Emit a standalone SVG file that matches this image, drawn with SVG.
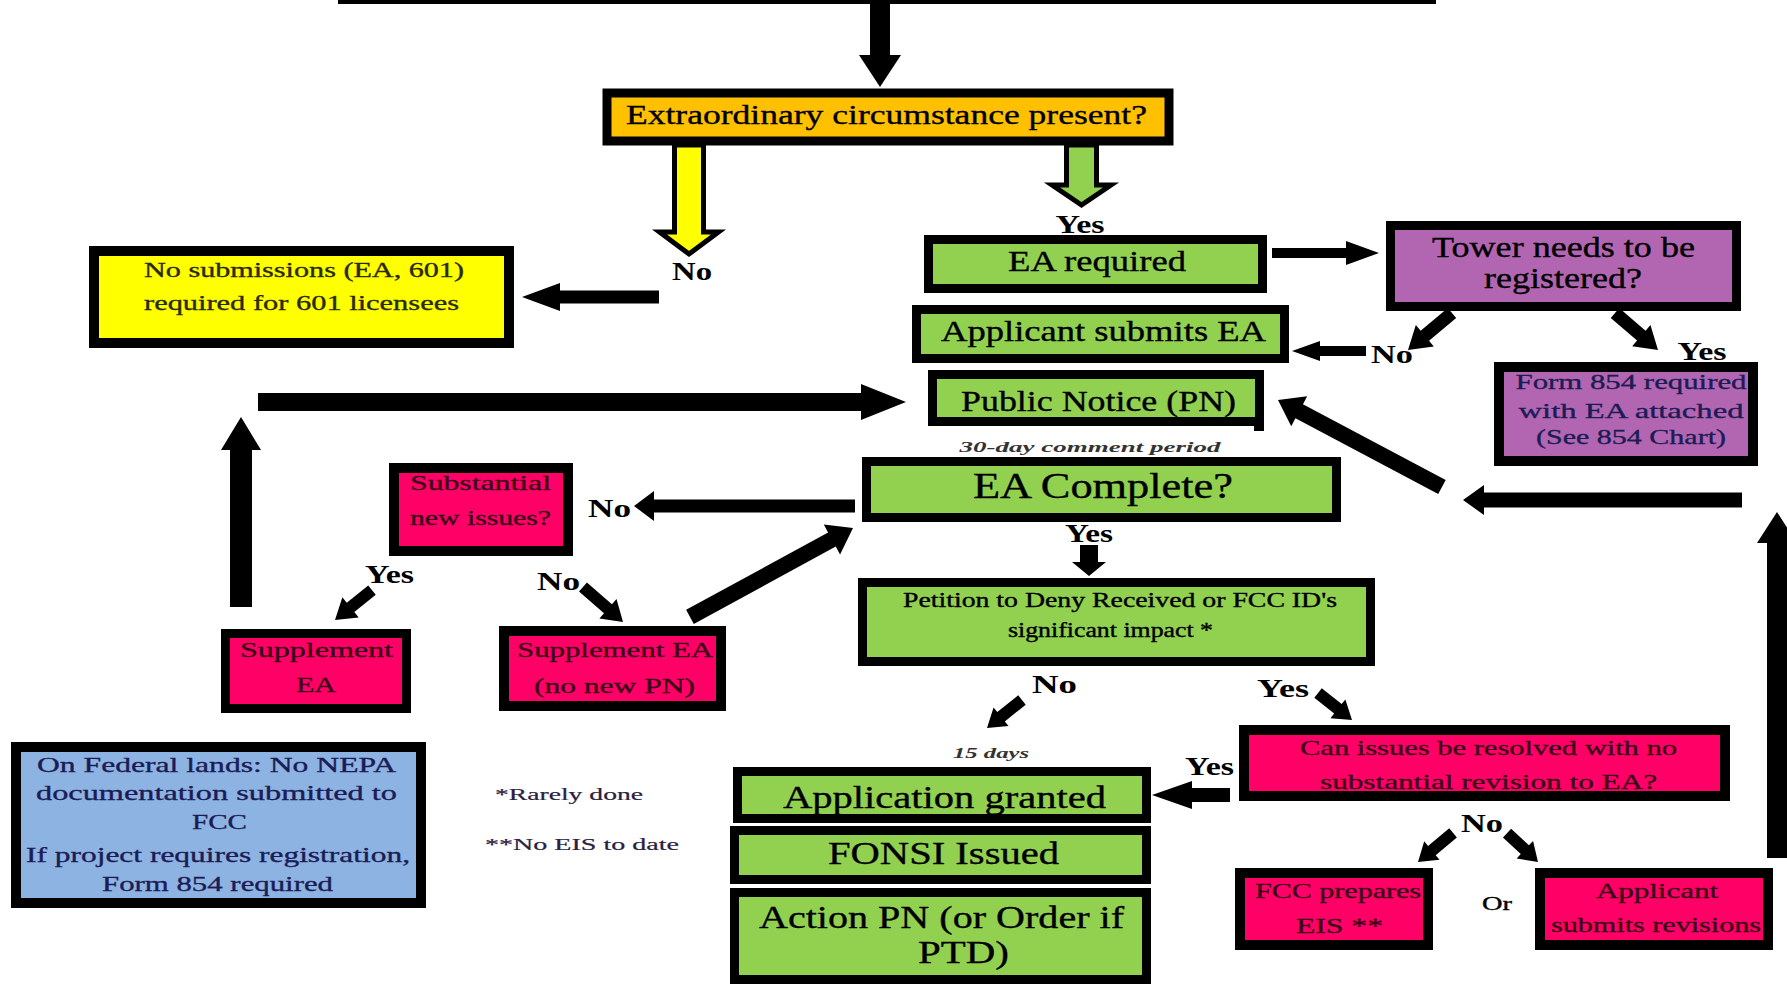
<svg xmlns="http://www.w3.org/2000/svg" width="1787" height="987" viewBox="0 0 1787 987">
<style>
text{font-family:"Liberation Serif","Times New Roman",serif;fill:#000;stroke:#000;stroke-width:0.35;text-anchor:middle}
.box{stroke:#000;stroke-width:9}
.s10{stroke-width:10}
.or{fill:#FFC000}.ye{fill:#FFFF00}.gr{fill:#92D050}.pu{fill:#B266B2}.pk{fill:#FF0066}.bl{fill:#8DB3E2}
.t27{font-size:29px}.t21{font-size:22px}.t30{font-size:32px}.t19{font-size:20px}
.lab{font-size:25px;font-weight:bold;stroke-width:0}
.it{font-size:15px;font-style:italic;font-weight:bold;fill:#333;stroke-width:0}
.note{font-size:17px;fill:#2a2040;stroke:#2a2040;stroke-width:0.2}
.pkt{fill:#3a0018;stroke:#3a0018}.ylt{fill:#2a2a00;stroke:#2a2a00}.nvt{fill:#1c1c55;stroke:#1c1c55}
.ar{fill:#000}
.hol{stroke:#000;stroke-width:5;stroke-linejoin:miter}
</style>
<rect x="0" y="0" width="1787" height="987" fill="#fff"/>

<g id="connectors">
  <rect x="338" y="0" width="1098" height="4" fill="#000"/>
  <path class="ar" transform="translate(880,87) rotate(90)" d="M0,0 L-32,-21 L-32,-10 L-83,-10 L-83,10 L-32,10 L-32,21 Z"/>
  <path class="hol ye" d="M674.5,145 L703.5,145 L703.5,232 L718.5,232 L689,254 L659.5,232 L674.5,232 Z"/>
  <path class="hol gr" d="M1066.5,145 L1096.5,145 L1096.5,185 L1111,185 L1081.5,205 L1052,185 L1066.5,185 Z"/>
  <path class="ar" transform="translate(522,297) rotate(180)" d="M0,0 L-38,-14 L-38,-6.5 L-137,-6.5 L-137,6.5 L-38,6.5 L-38,14 Z"/>
  <path class="ar" transform="translate(1379,253)" d="M0,0 L-33,-12 L-33,-5 L-107,-5 L-107,5 L-33,5 L-33,12 Z"/>
  <path class="ar" transform="translate(1408,350) rotate(139.9)" d="M0,0 L-22,-14 L-22,-6.5 L-57.5,-6.5 L-57.5,6.5 L-22,6.5 L-22,14 Z"/>
  <path class="ar" transform="translate(1658,350) rotate(40.7)" d="M0,0 L-22,-14 L-22,-6.5 L-56.7,-6.5 L-56.7,6.5 L-22,6.5 L-22,14 Z"/>
  <path class="ar" transform="translate(1292,351) rotate(180)" d="M0,0 L-28,-10 L-28,-5 L-74,-5 L-74,5 L-28,5 L-28,10 Z"/>
  <path class="ar" transform="translate(906,402)" d="M0,0 L-45,-18 L-45,-9 L-648,-9 L-648,9 L-45,9 L-45,18 Z"/>
  <path class="ar" transform="translate(241,417) rotate(-90)" d="M0,0 L-33,-20 L-33,-11 L-190,-11 L-190,11 L-33,11 L-33,20 Z"/>
  <path class="ar" transform="translate(634,506) rotate(180)" d="M0,0 L-20,-15 L-20,-6.5 L-221,-6.5 L-221,6.5 L-20,6.5 L-20,15 Z"/>
  <path class="ar" transform="translate(335,620) rotate(141)" d="M0,0 L-20,-13 L-20,-6 L-47.6,-6 L-47.6,6 L-20,6 L-20,13 Z"/>
  <path class="ar" transform="translate(623,622) rotate(41.2)" d="M0,0 L-20,-13 L-20,-6 L-53.2,-6 L-53.2,6 L-20,6 L-20,13 Z"/>
  <path class="ar" transform="translate(853,528) rotate(-28.6)" d="M0,0 L-24,-17 L-24,-8 L-185.7,-8 L-185.7,8 L-24,8 L-24,17 Z"/>
  <path class="ar" transform="translate(1278,400) rotate(-152.05)" d="M0,0 L-24,-17 L-24,-8 L-185.6,-8 L-185.6,8 L-24,8 L-24,17 Z"/>
  <path class="ar" transform="translate(1463,500) rotate(180)" d="M0,0 L-21,-15 L-21,-7.5 L-279,-7.5 L-279,7.5 L-21,7.5 L-21,15 Z"/>
  <path class="ar" transform="translate(1777,512) rotate(-90)" d="M0,0 L-31,-20 L-31,-10 L-346,-10 L-346,10 L-31,10 L-31,20 Z"/>
  <path class="ar" transform="translate(1089,576) rotate(90)" d="M0,0 L-14,-17 L-14,-9 L-31,-9 L-31,9 L-14,9 L-14,17 Z"/>
  <path class="ar" transform="translate(987,728) rotate(141.3)" d="M0,0 L-18,-12 L-18,-6 L-44.8,-6 L-44.8,6 L-18,6 L-18,12 Z"/>
  <path class="ar" transform="translate(1352,720) rotate(38.5)" d="M0,0 L-18,-12 L-18,-6 L-43.4,-6 L-43.4,6 L-18,6 L-18,12 Z"/>
  <path class="ar" transform="translate(1152,795) rotate(180)" d="M0,0 L-40,-14 L-40,-7 L-78,-7 L-78,7 L-40,7 L-40,14 Z"/>
  <path class="ar" transform="translate(1418,862) rotate(140.4)" d="M0,0 L-18,-12 L-18,-6 L-45.5,-6 L-45.5,6 L-18,6 L-18,12 Z"/>
  <path class="ar" transform="translate(1538,862) rotate(43.1)" d="M0,0 L-18,-12 L-18,-6 L-42.4,-6 L-42.4,6 L-18,6 L-18,12 Z"/>
</g>

<g id="labels">
  <text class="lab" x="692" y="280" textLength="40" lengthAdjust="spacingAndGlyphs">No</text>
  <text class="lab" x="1080" y="233" textLength="49" lengthAdjust="spacingAndGlyphs">Yes</text>
  <text class="lab" x="1392" y="363" textLength="42" lengthAdjust="spacingAndGlyphs">No</text>
  <text class="lab" x="1702" y="360" textLength="49" lengthAdjust="spacingAndGlyphs">Yes</text>
  <text class="lab" x="609.5" y="517" textLength="43" lengthAdjust="spacingAndGlyphs">No</text>
  <text class="lab" x="389.5" y="583" textLength="49" lengthAdjust="spacingAndGlyphs">Yes</text>
  <text class="lab" x="558.5" y="590" textLength="43" lengthAdjust="spacingAndGlyphs">No</text>
  <text class="lab" x="1089" y="542" textLength="48" lengthAdjust="spacingAndGlyphs">Yes</text>
  <text class="lab" x="1054.5" y="693" textLength="45" lengthAdjust="spacingAndGlyphs">No</text>
  <text class="lab" x="1283" y="697" textLength="52" lengthAdjust="spacingAndGlyphs">Yes</text>
  <text class="lab" x="1209.5" y="775" textLength="49" lengthAdjust="spacingAndGlyphs">Yes</text>
  <text class="lab" x="1482" y="832" textLength="42" lengthAdjust="spacingAndGlyphs">No</text>
  <text x="1497" y="910" font-size="19" textLength="30" lengthAdjust="spacingAndGlyphs" fill="#222" stroke-width="0">Or</text>
  <text class="it" x="1090" y="452" textLength="261" lengthAdjust="spacingAndGlyphs">30-day comment period</text>
  <text class="it" x="991" y="758" textLength="76" lengthAdjust="spacingAndGlyphs">15 days</text>
  <text class="note" x="569" y="800" textLength="148" lengthAdjust="spacingAndGlyphs">*Rarely done</text>
  <text class="note" x="582" y="850" textLength="194" lengthAdjust="spacingAndGlyphs">**No EIS to date</text>
</g>

<g id="n-extraordinary">
  <rect class="box or" x="607" y="93" width="562" height="48"/>
  <text x="886.5" y="124" font-size="28" textLength="521" lengthAdjust="spacingAndGlyphs">Extraordinary circumstance present?</text>
</g>
<g id="n-nosubmissions">
  <rect class="box s10 ye" x="94" y="251" width="415" height="92"/>
  <text class="t21 ylt" x="304" y="277" textLength="320" lengthAdjust="spacingAndGlyphs">No submissions (EA, 601)</text>
  <text class="t21 ylt" x="301.5" y="310" textLength="315" lengthAdjust="spacingAndGlyphs">required for 601 licensees</text>
</g>
<g id="n-earequired">
  <rect class="box gr" x="928.5" y="239.5" width="334" height="49"/>
  <text class="t27" x="1097" y="271" textLength="178" lengthAdjust="spacingAndGlyphs">EA required</text>
</g>
<g id="n-tower">
  <rect class="box pu" x="1390.5" y="225.5" width="346" height="81"/>
  <text class="t27" x="1563.5" y="257" textLength="263" lengthAdjust="spacingAndGlyphs">Tower needs to be</text>
  <text class="t27" x="1563" y="288" textLength="158" lengthAdjust="spacingAndGlyphs">registered?</text>
</g>
<g id="n-applicantsubmits">
  <rect class="box gr" x="916.5" y="309.5" width="368" height="49"/>
  <text class="t27" x="1103.5" y="341" textLength="325" lengthAdjust="spacingAndGlyphs">Applicant submits EA</text>
</g>
<g id="n-publicnotice">
  <rect class="box gr" x="932.5" y="374.5" width="327" height="47"/>
  <rect x="1254" y="421" width="10" height="10" fill="#000"/>
  <text class="t27" x="1098.5" y="411" textLength="275" lengthAdjust="spacingAndGlyphs">Public Notice (PN)</text>
</g>
<g id="n-form854">
  <rect class="box s10 pu" x="1499" y="367" width="254" height="94"/>
  <text class="t21 nvt" x="1631" y="389" textLength="231" lengthAdjust="spacingAndGlyphs">Form 854 required</text>
  <text class="t21 nvt" x="1631" y="418" textLength="225" lengthAdjust="spacingAndGlyphs">with EA attached</text>
  <text class="t21 nvt" x="1631" y="444" textLength="190" lengthAdjust="spacingAndGlyphs">(See 854 Chart)</text>
</g>
<g id="n-eacomplete">
  <rect class="box gr" x="866.5" y="461.5" width="470" height="56"/>
  <text x="1103" y="498" font-size="35" textLength="260" lengthAdjust="spacingAndGlyphs">EA Complete?</text>
</g>
<g id="n-substantial">
  <rect class="box s10 pk" x="394" y="468" width="174" height="83"/>
  <text class="t21 pkt" x="480.5" y="490" textLength="141" lengthAdjust="spacingAndGlyphs">Substantial</text>
  <text class="t21 pkt" x="480.5" y="525" textLength="141" lengthAdjust="spacingAndGlyphs">new issues?</text>
</g>
<g id="n-supplement">
  <rect class="box pk" x="225.5" y="633.5" width="181" height="75"/>
  <text class="t21 pkt" x="316.5" y="657" textLength="153" lengthAdjust="spacingAndGlyphs">Supplement</text>
  <text class="t21 pkt" x="316" y="692" textLength="40" lengthAdjust="spacingAndGlyphs">EA</text>
</g>
<g id="n-supplementnopn">
  <rect class="box s10 pk" x="504" y="631" width="217" height="75"/>
  <text class="t21 pkt" x="615" y="657" textLength="196" lengthAdjust="spacingAndGlyphs">Supplement EA</text>
  <text class="t21 pkt" x="614.5" y="693" textLength="161" lengthAdjust="spacingAndGlyphs">(no new PN)</text>
</g>
<g id="n-petition">
  <rect class="box gr" x="862.5" y="582.5" width="508" height="79"/>
  <text class="t19" x="1120" y="607" textLength="434" lengthAdjust="spacingAndGlyphs">Petition to Deny Received or FCC ID's</text>
  <text class="t19" x="1110.5" y="637" textLength="205" lengthAdjust="spacingAndGlyphs">significant impact *</text>
</g>
<g id="n-federal">
  <rect class="box s10 bl" x="16" y="747" width="405" height="156"/>
  <text class="t21 nvt" x="216.5" y="772" textLength="359" lengthAdjust="spacingAndGlyphs">On Federal lands: No NEPA</text>
  <text class="t21 nvt" x="216.5" y="800" textLength="361" lengthAdjust="spacingAndGlyphs">documentation submitted to</text>
  <text class="t21 nvt" x="219.5" y="829" textLength="55" lengthAdjust="spacingAndGlyphs">FCC</text>
  <text class="t21 nvt" x="218" y="862" textLength="384" lengthAdjust="spacingAndGlyphs">If project requires registration,</text>
  <text class="t21 nvt" x="217.5" y="891" textLength="231" lengthAdjust="spacingAndGlyphs">Form 854 required</text>
</g>
<g id="n-granted">
  <rect class="box gr" x="737.5" y="771.5" width="409" height="47"/>
  <text class="t30" x="944.5" y="808" textLength="323" lengthAdjust="spacingAndGlyphs">Application granted</text>
</g>
<g id="n-fonsi">
  <rect class="box gr" x="734.5" y="830.5" width="412" height="49"/>
  <text class="t30" x="943.5" y="864" textLength="231" lengthAdjust="spacingAndGlyphs">FONSI Issued</text>
</g>
<g id="n-actionpn">
  <rect class="box gr" x="734.5" y="892.5" width="412" height="87"/>
  <text class="t30" x="941.5" y="928" textLength="365" lengthAdjust="spacingAndGlyphs">Action PN (or Order if</text>
  <text class="t30" x="963.5" y="963" textLength="91" lengthAdjust="spacingAndGlyphs">PTD)</text>
</g>
<g id="n-canissues">
  <rect class="box s10 pk" x="1244" y="730" width="481" height="66"/>
  <text class="t21 pkt" x="1488.5" y="755" textLength="377" lengthAdjust="spacingAndGlyphs">Can issues be resolved with no</text>
  <text class="t21 pkt" x="1488.5" y="789" textLength="337" lengthAdjust="spacingAndGlyphs">substantial revision to EA?</text>
</g>
<g id="n-fcceis">
  <rect class="box s10 pk" x="1240" y="873" width="188" height="72"/>
  <text class="t21 pkt" x="1338" y="898" textLength="166" lengthAdjust="spacingAndGlyphs">FCC prepares</text>
  <text class="t21 pkt" x="1339.5" y="933" textLength="87" lengthAdjust="spacingAndGlyphs">EIS **</text>
</g>
<g id="n-revisions">
  <rect class="box s10 pk" x="1540" y="873" width="228" height="72"/>
  <text class="t21 pkt" x="1657" y="898" textLength="122" lengthAdjust="spacingAndGlyphs">Applicant</text>
  <text class="t21 pkt" x="1656" y="932" textLength="210" lengthAdjust="spacingAndGlyphs">submits revisions</text>
</g>
</svg>
